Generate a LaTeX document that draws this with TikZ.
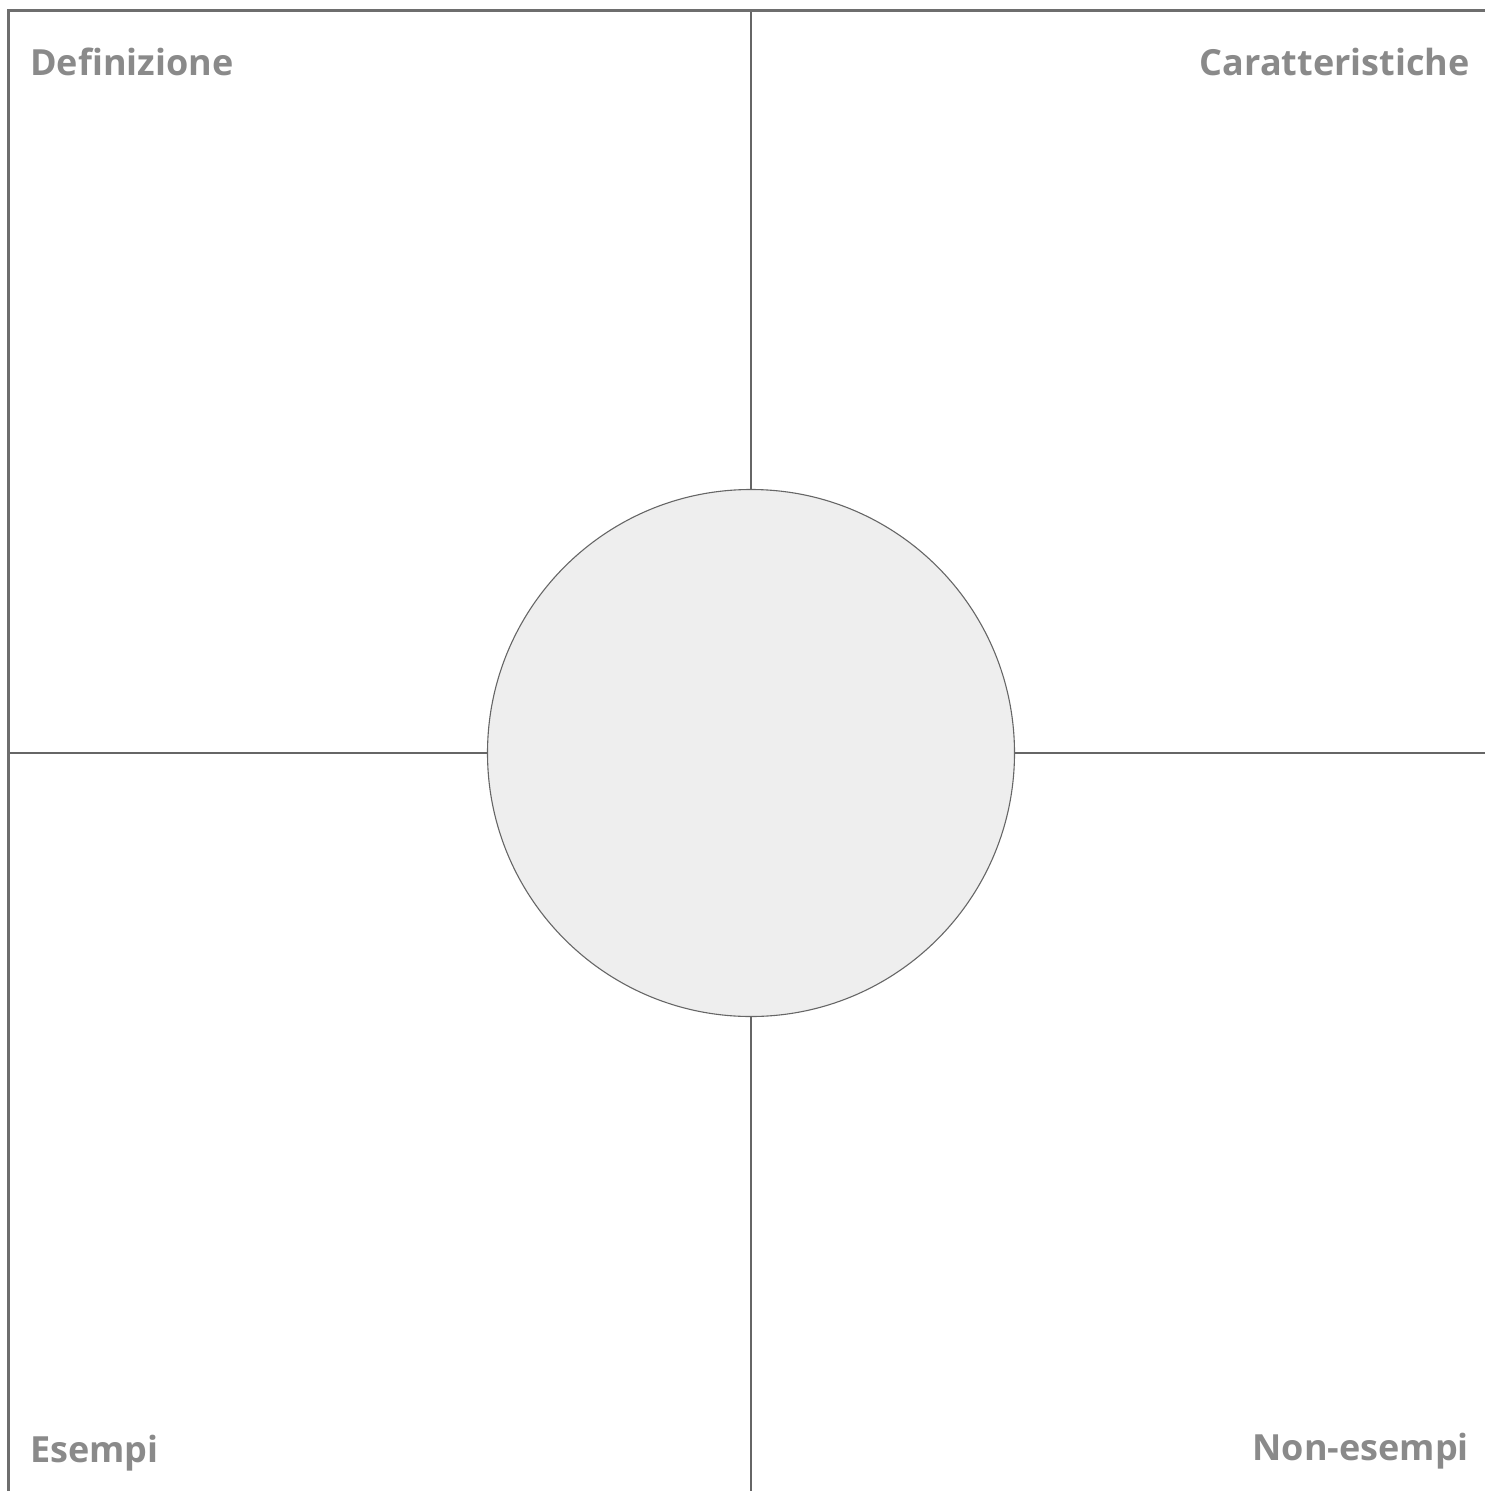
\documentclass[tikz,border=0pt]{standalone}
\usepackage{fontspec}
\setmainfont{Open Sans}
\definecolor{framegray}{HTML}{6E6E6E}
\definecolor{linegray}{HTML}{666666}
\definecolor{labelgray}{HTML}{8A8A8A}
\definecolor{circfill}{HTML}{EEEEEE}
\begin{document}
\begin{tikzpicture}[x=1pt,y=-1pt,
  frameline/.style={draw=framegray,line width=3pt},
  quadline/.style={draw=linegray,line width=1.1pt},
  lbl/.style={text=labelgray,font=\fontsize{36}{40}\selectfont\bfseries,inner sep=0pt},
  centre/.style={circle,draw=linegray,line width=1.1pt,fill=circfill,minimum size=527pt,inner sep=0pt}]
\useasboundingbox (0,0) rectangle (1485,1491);
\coordinate (tl) at (8.5,10.5);
\coordinate (tr) at (1485,10.5);
\coordinate (bl) at (8.5,1491);
\draw[frameline] (tr) -- (tl) -- (bl);
\node[centre] (c) at (751,753) {};
\coordinate (vt) at (751,12);
\coordinate (vb) at (751,1491);
\coordinate (hl) at (10,753);
\coordinate (hr) at (1485,753);
\draw[quadline] (vt) -- (c.north);
\draw[quadline] (c.south) -- (vb);
\draw[quadline] (hl) -- (c.west);
\draw[quadline] (c.east) -- (hr);
\node[lbl,anchor=base west] (def) at (30,75) {Definizione};
\node[lbl,anchor=base east] (car) at (1470,75) {Caratteristiche};
\node[lbl,anchor=base west] (es) at (30,1462) {Esempi};
\node[lbl,anchor=base east] (non) at (1469,1460) {Non-esempi};
\end{tikzpicture}
\end{document}
